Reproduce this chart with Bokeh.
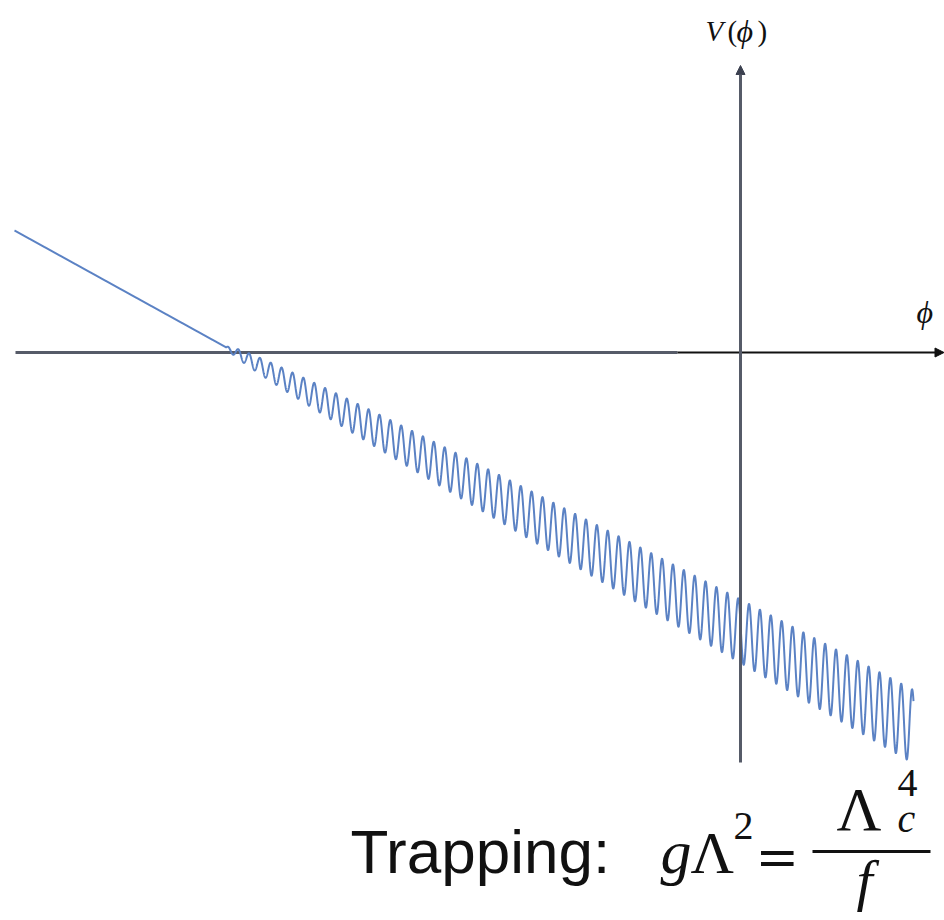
import numpy as np
from bokeh.plotting import figure
from bokeh.models import Range1d, Arrow, NormalHead
from bokeh.core.properties import value
from bokeh.embed import file_html
from bokeh.resources import INLINE

# --- relaxion potential V(phi): linear slope plus a barrier term that
# switches on past phi_c and grows as the Higgs vev develops ---
PHI_START = -7.26      # left end of the drawn field range
PHI_END = 1.73         # right end of the drawn field range
V_START = 1.22         # potential at PHI_START
SLOPE = 0.552          # g * Lambda^3 (linear roll-down)
PHI_C = -5.14          # point where the barriers appear
OSC_PERIOD = 0.1087    # 2 pi f
PHI_PEAK = -0.023      # a barrier maximum (fixes the phase)
AMP_COEF = 0.14        # Lambda_c^4 growth, amplitude ~ sqrt(phi - phi_c)

phi = np.linspace(PHI_START, PHI_END, 8000)
trend = V_START - SLOPE * (phi - PHI_START)
amp = AMP_COEF * np.sqrt(np.clip(phi - PHI_C, 0.0, None))
V = trend + amp * np.cos(2 * np.pi * (phi - PHI_PEAK) / OSC_PERIOD)

# axis extents in field / potential units
AXIS_X_LEFT, AXIS_X_SPLIT, AXIS_X_RIGHT = -7.25, -0.63, 2.035
AXIS_Y_BOTTOM, AXIS_Y_TOP = -4.10, 2.87

W, H = 944, 920
p = figure(width=W, height=H, output_backend="svg", toolbar_location=None,
           x_range=Range1d(-7.40, 2.04), y_range=Range1d(-5.68, 3.52),
           x_axis_type=None, y_axis_type=None, min_border=0)
p.grid.visible = False
p.outline_line_color = None
p.background_fill_color = "white"
p.border_fill_color = "white"

# horizontal phi axis: grey left part, black right part with arrow
p.line([AXIS_X_LEFT, AXIS_X_SPLIT], [0, 0], line_color="#565b68", line_width=3)
p.add_layout(Arrow(end=NormalHead(size=9, fill_color="#111111", line_color="#111111"),
                   x_start=AXIS_X_SPLIT, y_start=0, x_end=AXIS_X_RIGHT, y_end=0,
                   line_color="#111111", line_width=2))
# vertical V axis with arrow
p.add_layout(Arrow(end=NormalHead(size=9, fill_color="#3c4150", line_color="#3c4150"),
                   x_start=0, y_start=AXIS_Y_BOTTOM, x_end=0, y_end=AXIS_Y_TOP,
                   line_color="#565b68", line_width=3))

# the potential
p.line(phi, V, line_color="#5b82c4", line_width=2)


def px(x):
    return (x - 740) / 100.0


def py(y):
    return (352 - y) / 100.0


def lab(text, x, y, size, font="Liberation Serif", style="normal", color="#111111"):
    p.text(x=[px(x)], y=[py(y)], text=[text], text_font=value(font),
           text_font_size=f"{size}px", text_font_style=style,
           text_color=color, text_baseline="alphabetic", text_align="left")


# axis labels
lab("V", 705, 30, 29, style="italic")
lab("(", 727, 30, 29)
lab("ϕ", 736, 30, 32, style="italic")
lab(")", 757, 30, 29)
lab("ϕ", 916, 311, 32, style="italic")

# trapping condition
lab("Trapping:", 350, 851, 62, font="Liberation Sans")
lab("g", 660, 851, 62, style="italic")
lab("Λ", 690, 852, 60)
lab("2", 733, 825, 40)
lab("=", 755, 856, 52, font="DejaVu Serif")
p.line([px(812), px(930)], [py(851), py(851)], line_color="#111111", line_width=3)
lab("Λ", 836, 808, 62)
lab("4", 897, 782, 40)
lab("c", 897, 818, 40, style="italic")
lab("f", 856, 880, 58, style="italic")

open("out.html", "w").write(file_html(p, INLINE))
